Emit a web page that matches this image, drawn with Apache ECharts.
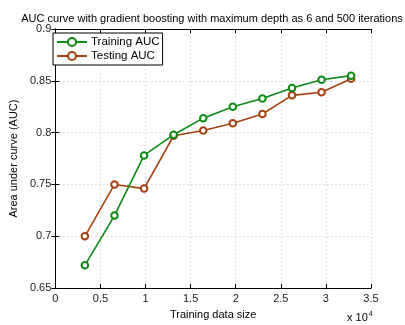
<!DOCTYPE html>
<html><head><meta charset="utf-8">
<script src="https://cdn.jsdelivr.net/npm/echarts@6/dist/echarts.min.js"></script>
<style>html,body{margin:0;padding:0;background:#fff}#c{width:405px;height:325px}</style>
</head><body><div id="c"></div>
<script>
const trainSizes = [3280, 6560, 9840, 13120, 16400, 19680, 22960, 26240, 29520, 32800];
const trainingAUC = [0.672, 0.720, 0.778, 0.798, 0.814, 0.825, 0.833, 0.843, 0.851, 0.855];
const testingAUC  = [0.700, 0.750, 0.746, 0.797, 0.802, 0.809, 0.818, 0.836, 0.839, 0.852];
const xTickLabels = ['0','0.5','1','1.5','2','2.5','3','3.5'];
const yTickLabels = ['0.65','0.7','0.75','0.8','0.85','0.9'];

const FONT = 'Liberation Sans';
const green = '#0b8a14', brown = '#a5400f';
const chart = echarts.init(document.getElementById('c'), null, {renderer:'canvas'});
const pair = a => trainSizes.map((x,i)=>[x,a[i]]);
const tick = {show:true, inside:true, length:4, lineStyle:{color:'#000',width:1}};
const split = {show:true, lineStyle:{color:'#c4c4c4', type:[1,3], width:1}};
chart.setOption({
  animation:false,
  textStyle:{fontFamily:FONT},
  title:{text:'AUC curve with gradient boosting with maximum depth as 6 and 500 iterations',
    left:207, textAlign:'center', top:8,
    textStyle:{fontFamily:FONT, fontSize:11, fontWeight:'normal', color:'#000'}},
  grid:{left:49, top:29, width:322, height:263},
  legend:{left:53, top:33, orient:'vertical', itemWidth:30, itemHeight:10, itemGap:2,
    padding:[3,3,3,3], borderColor:'#000', borderWidth:1, backgroundColor:'#fff',
    textStyle:{fontFamily:FONT, fontSize:11.5, color:'#000', padding:[0,0,0,-1]},
    data:['Training AUC','Testing AUC']},
  xAxis:[{type:'value', min:0, max:35000, interval:5000, position:'bottom',
    axisLine:{show:true, lineStyle:{color:'#000',width:1}}, axisTick:tick, splitLine:split,
    axisLabel:{margin:5, fontFamily:FONT, fontSize:11, color:'#222',
      formatter:(v)=>xTickLabels[Math.round(v/5000)]},
    name:'Training data size', nameLocation:'middle', nameGap:15,
    nameTextStyle:{fontFamily:FONT, fontSize:11, color:'#000'}},
   {type:'value', min:0, max:35000, interval:5000, position:'top',
    axisLine:{show:true, lineStyle:{color:'#000',width:1}}, axisTick:tick, splitLine:{show:false}, axisLabel:{show:false}}],
  yAxis:[{type:'value', min:0.65, max:0.9, interval:0.05, position:'left',
    axisLine:{show:true, lineStyle:{color:'#000',width:1}}, axisTick:tick, splitLine:split,
    axisLabel:{margin:4, fontFamily:FONT, fontSize:11, color:'#222',
      formatter:(v)=>yTickLabels[Math.round((v-0.65)/0.05)]},
    name:'Area under curve (AUC)', nameLocation:'middle', nameGap:28, nameRotate:90,
    nameTextStyle:{fontFamily:FONT, fontSize:11, color:'#000'}},
   {type:'value', min:0.65, max:0.9, interval:0.05, position:'right',
    axisLine:{show:true, lineStyle:{color:'#000',width:1}}, axisTick:tick, splitLine:{show:false}, axisLabel:{show:false}}],
  graphic:[{type:'text', left:347, top:311,
    style:{text:'{a|x 10}{b|4}', rich:{a:{fontFamily:FONT,fontSize:11,fill:'#000'},
      b:{fontFamily:FONT,fontSize:7,fill:'#000',verticalAlign:'top',padding:[0,0,6,1]}}}}],
  series:[
    {name:'Training AUC', type:'line', data:pair(trainingAUC), symbol:'emptyCircle', symbolSize:6.5,
     itemStyle:{color:green, borderWidth:1.6}, lineStyle:{color:green, width:1.6}, z:3},
    {name:'Testing AUC', type:'line', data:pair(testingAUC), symbol:'emptyCircle', symbolSize:6.5,
     itemStyle:{color:brown, borderWidth:1.6}, lineStyle:{color:brown, width:1.6}, z:2}
  ]
});
</script></body></html>
